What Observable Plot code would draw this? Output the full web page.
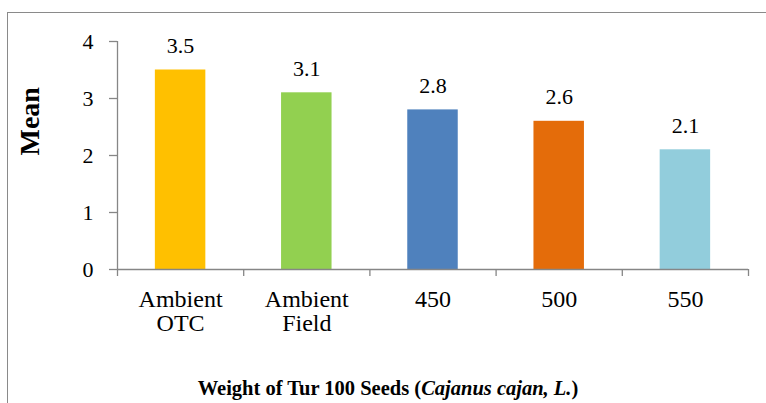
<!DOCTYPE html>
<html>
<head>
<meta charset="utf-8">
<script src="https://cdn.jsdelivr.net/npm/d3@7"></script>
<script src="https://cdn.jsdelivr.net/npm/@observablehq/plot@0.6"></script>
<style>
  html, body { margin: 0; padding: 0; background: #fff; }
  #wrap { position: relative; width: 766px; height: 403px; overflow: hidden; }
  #frame { position: absolute; left: 7px; top: 12px; width: 900px; height: 600px; border: 1px solid #8a8a8a; box-sizing: border-box; }
  #chart { position: absolute; left: 0; top: 0; }
  #title { position: absolute; left: 0; top: 377px; width: 776px; text-align: center;
           font-family: "Times New Roman", "Liberation Serif", serif; font-weight: bold; font-size: 20.5px; color: #000; }
</style>
</head>
<body>
<div id="wrap">
  <div id="frame"></div>
  <div id="chart"></div>
</div>
<script>
const categories = ["Ambient\nOTC", "Ambient\nField", "450", "500", "550"];
const means = [3.5, 3.1, 2.8, 2.6, 2.1];
const labels = ["3.5", "3.1", "2.8", "2.6", "2.1"];
const colors = ["#FFC000", "#92D050", "#4F81BD", "#E46C0A", "#92CDDC"];
const yTicks = [0, 1, 2, 3, 4];

const data = categories.map((c, i) => ({cat: c, i, mean: means[i], label: labels[i], color: colors[i]}));
const serif = "Times New Roman";
const axisGray = "#868686";

const chart = Plot.plot({
  width: 766,
  height: 403,
  marginLeft: 117,
  marginRight: 18,
  marginTop: 41,
  marginBottom: 134,
  style: {fontFamily: serif, background: "none"},
  x: {domain: [0, categories.length], axis: null, label: null},
  y: {domain: [0, 4], axis: null, label: null},
  marks: [
    Plot.rectY(data, {x1: d => d.i + 0.3, x2: d => d.i + 0.7, y1: 0, y2: "mean", fill: "color"}),
    Plot.ruleX([0], {y1: 0, y2: 4, stroke: axisGray, strokeWidth: 1.3}),
    Plot.axisY({ticks: yTicks, tickSize: 8, stroke: axisGray, strokeWidth: 1.3, text: null, label: null}),
    Plot.ruleY([0], {x1: 0, x2: categories.length, stroke: axisGray, strokeWidth: 1.3}),
    Plot.axisX({ticks: d3.range(categories.length + 1), tickSize: 7, stroke: axisGray, strokeWidth: 1.3, text: null, label: null}),
    // y tick labels
    Plot.text(yTicks, {x: 0, y: d => d, text: d => String(d), textAnchor: "end", dx: -24, fontSize: 22, fontFamily: serif, fill: "#000"}),
    // category labels
    Plot.text(data, {x: d => d.i + 0.5, y: 0, text: "cat", lineAnchor: "top", dy: 20, fontSize: 24, fontFamily: serif, lineHeight: 1.0, fill: "#000"}),
    // value labels
    Plot.text(data, {x: d => d.i + 0.5, y: "mean", text: "label", lineAnchor: "middle", dy: -24, fontSize: 22, fontFamily: serif, fill: "#000"}),
    // y axis title
    Plot.text(["Mean"], {frameAnchor: "left", dx: -87, rotate: -90, fontSize: 28, fontFamily: serif, fontWeight: "bold", fill: "#000"})
  ]
});
document.getElementById("chart").appendChild(chart);
const title = document.createElement("div");
title.id = "title";
title.innerHTML = "Weight of Tur 100 Seeds (<i>Cajanus cajan, L.</i>)";
document.getElementById("wrap").appendChild(title);
</script>
</body>
</html>
